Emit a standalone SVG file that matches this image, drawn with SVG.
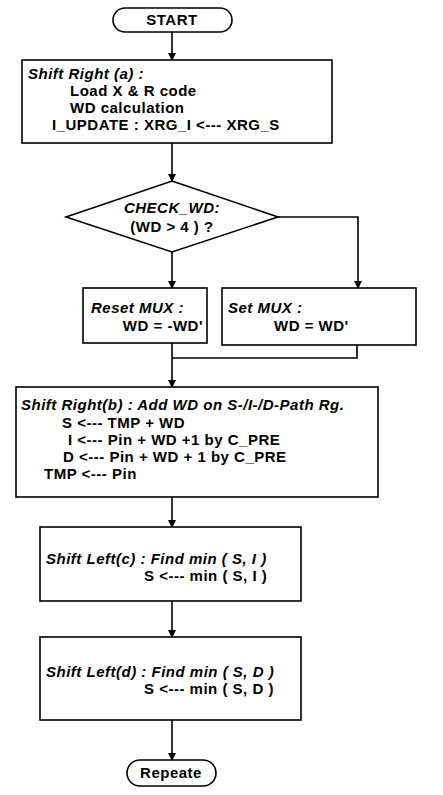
<svg xmlns="http://www.w3.org/2000/svg" width="443" height="795" viewBox="0 0 443 795">
<style>
  .box{fill:#fff;stroke:#000;stroke-width:1.6}
  .ln{fill:none;stroke:#000;stroke-width:1.6}
  text{font-family:"Liberation Sans",Arial,sans-serif;font-size:15px;font-weight:bold;fill:#000;letter-spacing:0.5px}
  .t{font-style:italic}
  .c{text-anchor:middle}
  .e{text-anchor:end}
</style>
<defs>
  <marker id="ah" markerWidth="8" markerHeight="10" refX="7" refY="4" orient="auto" markerUnits="userSpaceOnUse">
    <path d="M0,0 L8,4 L0,8 Z" fill="#000"/>
  </marker>
</defs>
<rect width="443" height="795" fill="#fff"/>
<g id="connectors">
  <line class="ln" x1="172" y1="32" x2="172" y2="60" marker-end="url(#ah)"/>
  <line class="ln" x1="172" y1="143" x2="172" y2="181" marker-end="url(#ah)"/>
  <line class="ln" x1="172" y1="252" x2="172" y2="288" marker-end="url(#ah)"/>
  <polyline class="ln" points="278,217 358,217 358,288" marker-end="url(#ah)"/>
  <polyline class="ln" points="172,343 172,387" marker-end="url(#ah)"/>
  <polyline class="ln" points="357,345 357,358 172,358"/>
  <line class="ln" x1="172" y1="497" x2="172" y2="527" marker-end="url(#ah)"/>
  <line class="ln" x1="172" y1="601" x2="172" y2="637" marker-end="url(#ah)"/>
  <line class="ln" x1="172" y1="720" x2="172" y2="760" marker-end="url(#ah)"/>
</g>
<g id="start">
  <rect class="box" x="113" y="8" width="119" height="24" rx="12" ry="12"/>
  <text class="c" x="172" y="25">START</text>
</g>
<g id="shift-right-a">
  <rect class="box" x="22" y="60" width="310" height="83"/>
  <text class="t" x="28" y="79">Shift Right (a) :</text>
  <text x="70" y="96">Load X &amp; R code</text>
  <text x="70" y="113">WD calculation</text>
  <text x="52" y="130">I_UPDATE : XRG_I &lt;--- XRG_S</text>
</g>
<g id="check-wd">
  <polygon class="box" points="172,181 278,217 172,252 66,217"/>
  <text class="c t" x="172" y="213">CHECK_WD:</text>
  <text class="c" x="172" y="232">(WD &gt; 4 ) ?</text>
</g>
<g id="reset-mux">
  <rect class="box" x="83" y="288" width="124" height="55"/>
  <text class="t" x="91" y="313">Reset MUX :</text>
  <text class="e" x="203" y="331">WD = -WD'</text>
</g>
<g id="set-mux">
  <rect class="box" x="222" y="288" width="194" height="57"/>
  <text class="t" x="228" y="313">Set MUX :</text>
  <text x="274" y="331">WD = WD'</text>
</g>
<g id="shift-right-b">
  <rect class="box" x="16" y="387" width="362" height="110"/>
  <text class="t" x="21" y="410">Shift Right(b) :  Add WD on S-/I-/D-Path Rg.</text>
  <text x="62" y="428">S &lt;--- TMP + WD</text>
  <text x="68" y="445">I &lt;--- Pin + WD +1 by C_PRE</text>
  <text x="63" y="462">D &lt;--- Pin + WD + 1 by C_PRE</text>
  <text x="44" y="479">TMP &lt;--- Pin</text>
</g>
<g id="shift-left-c">
  <rect class="box" x="40" y="527" width="261" height="74"/>
  <text class="t" x="46" y="564">Shift Left(c) : Find min ( S, I )</text>
  <text x="144" y="581">S &lt;--- min ( S, I )</text>
</g>
<g id="shift-left-d">
  <rect class="box" x="40" y="637" width="261" height="83"/>
  <text class="t" x="46" y="677">Shift Left(d) : Find min ( S, D )</text>
  <text x="144" y="694">S &lt;--- min ( S, D )</text>
</g>
<g id="repeate">
  <rect class="box" x="127" y="760" width="89" height="26" rx="13" ry="13"/>
  <text class="c" x="171" y="778">Repeate</text>
</g>
</svg>
